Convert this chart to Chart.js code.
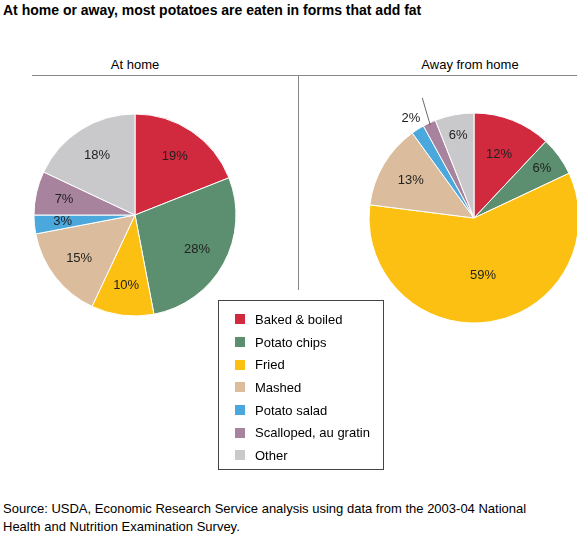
<!DOCTYPE html>
<html>
<head>
<meta charset="utf-8">
<script src="https://cdn.jsdelivr.net/npm/chart.js@4"></script>
<style>
  body { margin: 0; width: 577px; height: 535px; overflow: hidden; background: #fff;
         font-family: "Liberation Sans", Arial, sans-serif; color: #000; position: relative; }
  .abs { position: absolute; }
  #title { left: 3px; top: 2px; font-size: 14px; font-weight: bold; }
  .head { top: 57px; font-size: 13px; text-align: center; }
  #hline { left: 32px; top: 75px; width: 545px; height: 1px; background: #888; }
  #vline { left: 298px; top: 75px; width: 1px; height: 215px; background: #888; }
  #legend { left: 218px; top: 300px; width: 166px; height: 170px; border: 1px solid #444;
            box-sizing: border-box; padding: 7px 0 0 16px; font-size: 13px; }
  #legend div { height: 22.7px; display: flex; align-items: center; }
  #legend span { display: inline-block; width: 10px; height: 10px; margin-right: 10px; }
  #source { left: 3px; top: 500px; font-size: 13px; line-height: 18px; }
</style>
</head>
<body>
<div id="title" class="abs">At home or away, most potatoes are eaten in forms that add fat</div>
<div class="abs head" style="left:85px;width:100px">At home</div>
<div class="abs head" style="left:400px;width:140px">Away from home</div>
<div id="hline" class="abs"></div>
<div id="vline" class="abs"></div>
<canvas id="home" class="abs" width="230" height="230" style="left:20px;top:100px"></canvas>
<canvas id="away" class="abs" width="240" height="240" style="left:354px;top:98px"></canvas>
<div id="legend" class="abs"></div>
<div id="source" class="abs">Source: USDA, Economic Research Service analysis using data from the 2003-04 National<br>Health and Nutrition Examination Survey.</div>
<script>
const categories = ['Baked & boiled', 'Potato chips', 'Fried', 'Mashed', 'Potato salad', 'Scalloped, au gratin', 'Other'];
const homeValues = [19, 28, 10, 15, 3, 7, 18];
const awayValues = [12, 6, 59, 13, 2, 2, 6];
const colors = ['#d12a3e', '#5b8f6f', '#fcc012', '#dbbd9d', '#4ba8dc', '#a8839e', '#c9c9cb'];

// label radius factor per slice (>1 means outside)
const homeLabelPos = [0.7, 0.7, 0.7, 0.7, 0.72, 0.72, 0.7];
const awayLabelPos = [0.65, 0.8, 0.55, 0.7, 1.12, 1.3, 0.8];

const legend = document.getElementById('legend');
categories.forEach(function (c, i) {
  const row = document.createElement('div');
  row.innerHTML = '<span style="background:' + colors[i] + '"></span>' + c.replace('&', '&amp;');
  legend.appendChild(row);
});

const labelPlugin = {
  id: 'sliceLabels',
  afterDatasetsDraw(chart) {
    const ctx = chart.ctx;
    const pos = chart.options.plugins.sliceLabels.pos;
    const meta = chart.getDatasetMeta(0);
    ctx.save();
    ctx.font = '13px "Liberation Sans", Arial, sans-serif';
    ctx.fillStyle = '#222';
    ctx.textAlign = 'center';
    ctx.textBaseline = 'middle';
    meta.data.forEach(function (arc, i) {
      const a = (arc.startAngle + arc.endAngle) / 2;
      const r = arc.outerRadius * pos[i];
      let x = arc.x + Math.cos(a) * r;
      let y = arc.y + Math.sin(a) * r;
      if (pos[i] > 1.2) {
        // leader line for crowded slice
        ctx.strokeStyle = '#444';
        ctx.lineWidth = 0.8;
        ctx.beginPath();
        ctx.moveTo(arc.x + Math.cos(a) * arc.outerRadius * 0.98, arc.y + Math.sin(a) * arc.outerRadius * 0.98);
        ctx.lineTo(x + 6, y + 2);
        ctx.lineTo(x + 3, y + 2);
        ctx.stroke();
        x -= 8;
      }
      ctx.fillText(chart.data.datasets[0].data[i] + '%', x, y);
    });
    ctx.restore();
  }
};

function makePie(id, values, radius, pos) {
  return new Chart(document.getElementById(id), {
    type: 'pie',
    data: { labels: categories, datasets: [{ data: values, backgroundColor: colors, borderColor: '#fff', borderWidth: 1 }] },
    options: {
      responsive: false,
      animation: false,
      radius: radius,
      layout: { padding: 0 },
      plugins: { legend: { display: false }, tooltip: { enabled: false }, sliceLabels: { pos: pos } }
    },
    plugins: [labelPlugin]
  });
}

makePie('home', homeValues, 101, homeLabelPos);
makePie('away', awayValues, 105, awayLabelPos);
</script>
</body>
</html>
